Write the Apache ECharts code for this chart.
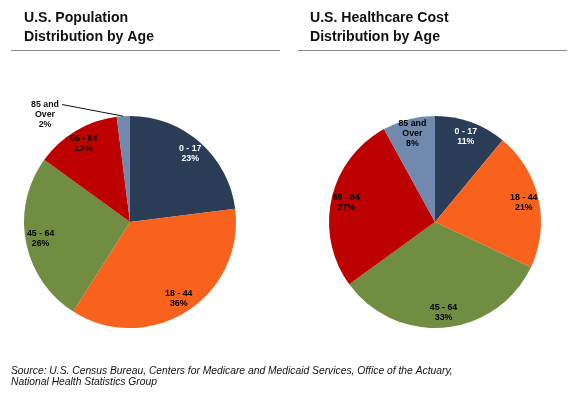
<!DOCTYPE html>
<html>
<head>
<meta charset="utf-8">
<script src="https://cdn.jsdelivr.net/npm/echarts@6/dist/echarts.min.js"></script>
<style>
  html, body { margin: 0; padding: 0; background: #fff; }
  #chart { width: 587px; height: 398px; }
</style>
</head>
<body>
<div id="chart"></div>
<script>
// age groups, clockwise from 12 o'clock
const ageGroups = ["0 - 17", "18 - 44", "45 - 64", "65 - 84", "85 and\nOver"];
const populationShare = [23, 36, 26, 13, 2];
const costShare = [11, 21, 33, 27, 8];
const sliceColors = ["#2A3C56", "#F8621C", "#708D41", "#BD0000", "#7189AC"];

const chart = echarts.init(document.getElementById("chart"));

const toData = (vals) =>
  vals.map((v, i) => ({ value: v, name: ageGroups[i], itemStyle: { color: sliceColors[i] } }));

const labelFont = {
  fontFamily: "Liberation Sans",
  fontWeight: "bold",
  fontSize: 8.8,
  lineHeight: 10,
  textBorderColor: "transparent",
  textBorderWidth: 0,
  textShadowBlur: 0,
};

// pie body (no labels)
const pieBody = (center, vals) => ({
  type: "pie",
  center: center,
  radius: 106,
  startAngle: 90,
  clockwise: true,
  silent: true,
  animation: false,
  label: { show: false },
  labelLine: { show: false },
  data: toData(vals),
});

// transparent ring, only used to place labels further out inside slices
const pieLabels = (center, vals, outsideIdx) => ({
  type: "pie",
  center: center,
  radius: [70, 106],
  startAngle: 90,
  clockwise: true,
  silent: true,
  animation: false,
  z: 5,
  itemStyle: { color: "transparent" },
  label: Object.assign(
    {
      show: true,
      position: "inside",
      color: "#000",
      formatter: (p) => p.name + "\n" + p.value + "%",
    },
    labelFont
  ),
  labelLine: { show: false },
  data: vals.map((v, i) => {
    const d = { value: v, name: ageGroups[i], itemStyle: { color: "transparent" } };
    if (i === 0) d.label = { color: "#fff" };
    if (i === outsideIdx) d.label = { show: false };
    return d;
  }),
});

// left chart: the small "85 and Over" slice gets an outside label with a leader line
const leftOutside = {
  type: "pie",
  center: [130, 222],
  radius: 106,
  startAngle: 90,
  clockwise: true,
  silent: true,
  animation: false,
  z: 5,
  itemStyle: { color: "transparent" },
  label: Object.assign(
    {
      show: false,
      color: "#111",
      align: "center",
      formatter: (p) => p.name + "\n" + p.value + "%",
    },
    labelFont
  ),
  labelLine: { show: false },
  labelLayout: (params) => {
    if (params.dataIndex !== 4) return {};
    const out = { x: 45, y: 115, align: "center", verticalAlign: "middle" };
    const pts = params.labelLinePoints;
    if (pts && pts.length) {
      const s = pts[0];
      out.labelLinePoints = [[s[0], s[1]], [s[0] - 1, s[1] - 0.2], [62, 104.5]];
    }
    return out;
  },
  data: populationShare.map((v, i) => {
    const d = { value: v, name: ageGroups[i], itemStyle: { color: "transparent" } };
    if (i === 4) {
      d.label = { show: true, position: "outside" };
      d.labelLine = {
        show: true,
        length: 2,
        length2: 2,
        lineStyle: { color: "#111", width: 1 },
      };
    }
    return d;
  }),
};

const titleStyle = {
  fontFamily: "Liberation Sans",
  fontWeight: "bold",
  fontSize: 14.1,
  lineHeight: 19,
  color: "#111",
};

const option = {
  backgroundColor: "#fff",
  animation: false,
  title: [
    { text: "U.S. Population\nDistribution by Age", left: 19, top: 4, textStyle: titleStyle },
    { text: "U.S. Healthcare Cost\nDistribution by Age", left: 305, top: 4, textStyle: titleStyle },
  ],
  graphic: [
    { type: "line", shape: { x1: 11, y1: 50.5, x2: 280, y2: 50.5 }, style: { stroke: "#8a8a8a", lineWidth: 1 } },
    { type: "line", shape: { x1: 298, y1: 50.5, x2: 567, y2: 50.5 }, style: { stroke: "#8a8a8a", lineWidth: 1 } },
    {
      type: "text",
      left: 11,
      top: 365,
      style: {
        text: "Source: U.S. Census Bureau, Centers for Medicare and Medicaid Services, Office of the Actuary,\nNational Health Statistics Group",
        fontFamily: "Liberation Sans",
        fontStyle: "italic",
        fontSize: 10.3,
        lineHeight: 11.5,
        fill: "#111",
      },
    },
  ],
  series: [
    pieBody([130, 222], populationShare),
    pieBody([435, 222], costShare),
    pieLabels([130, 222], populationShare, 4),
    pieLabels([435, 222], costShare, -1),
    leftOutside,
  ],
};

chart.setOption(option);
</script>
</body>
</html>
